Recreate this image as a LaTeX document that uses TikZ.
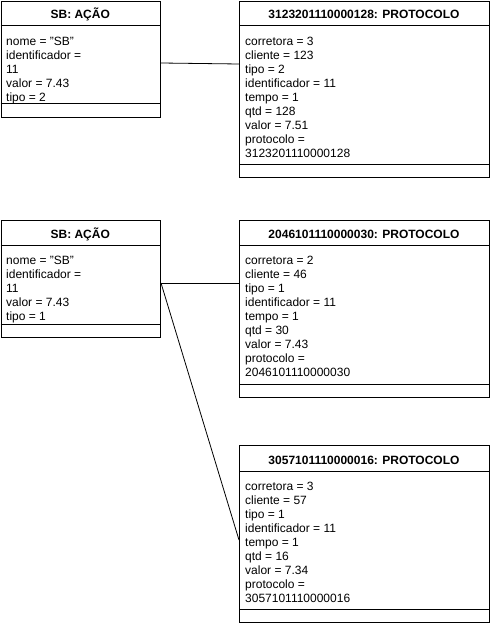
\documentclass[tikz,border=0pt]{standalone}
\usepackage{fontspec}
\setmainfont{Liberation Sans}
\newcommand{\dq}{\symbol{34}}
\begin{document}
\begin{tikzpicture}[x=1pt,y=-1pt,
  umlbox/.style={draw, line width=1pt, rectangle, inner sep=0pt, anchor=north west},
  titletext/.style={font=\fontsize{12}{14}\selectfont\bfseries, anchor=base, inner sep=0pt},
  bodytext/.style={font=\fontsize{12}{14}\selectfont, anchor=north west, align=left, inner sep=0pt},
  sepline/.style={line width=1pt},
  link/.style={line width=0.8pt}]
\useasboundingbox (0,0) rectangle (490,623);

% --- box a1
\node[umlbox, minimum width=159.5pt, minimum height=116pt] (a1) at (0.5,1) {};
\draw[sepline] (0.5,26) -- (160,26);
\draw[sepline] (0.5,104) -- (160,104);
\node[titletext] (a1t) at (80.25,19) {SB: AÇÃO};
\node[bodytext] (a1b) at (6,34.5) {\rule{0pt}{11pt}nome = \dq SB\dq\\identificador =\\11\\valor = 7.43\\tipo = 2};

% --- box p1
\node[umlbox, minimum width=250pt, minimum height=176pt] (p1) at (239,1) {};
\draw[sepline] (239,26) -- (489,26);
\draw[sepline] (239,164) -- (489,164);
\node[titletext] (p1t) at (364,18.5) {3123201110000128: PROTOCOLO};
\node[bodytext] (p1b) at (245,34.5) {\rule{0pt}{11pt}corretora = 3\\cliente = 123\\tipo = 2\\identificador = 11\\tempo = 1\\qtd = 128\\valor = 7.51\\protocolo =\\3123201110000128};

% --- box a2
\node[umlbox, minimum width=159.5pt, minimum height=117pt] (a2) at (0.5,220) {};
\draw[sepline] (0.5,245) -- (160,245);
\draw[sepline] (0.5,324) -- (160,324);
\node[titletext] (a2t) at (80.25,238.5) {SB: AÇÃO};
\node[bodytext] (a2b) at (6,253.5) {\rule{0pt}{11pt}nome = \dq SB\dq\\identificador =\\11\\valor = 7.43\\tipo = 1};

% --- box p2
\node[umlbox, minimum width=250pt, minimum height=177pt] (p2) at (239,220) {};
\draw[sepline] (239,245) -- (489,245);
\draw[sepline] (239,384) -- (489,384);
\node[titletext] (p2t) at (364,238.5) {2046101110000030: PROTOCOLO};
\node[bodytext] (p2b) at (245,253.5) {\rule{0pt}{11pt}corretora = 2\\cliente = 46\\tipo = 1\\identificador = 11\\tempo = 1\\qtd = 30\\valor = 7.43\\protocolo =\\2046101110000030};

% --- box p3
\node[umlbox, minimum width=250pt, minimum height=177pt] (p3) at (239,445) {};
\draw[sepline] (239,471) -- (489,471);
\draw[sepline] (239,609) -- (489,609);
\node[titletext] (p3t) at (364,464) {3057101110000016: PROTOCOLO};
\node[bodytext] (p3b) at (245,479.5) {\rule{0pt}{11pt}corretora = 3\\cliente = 57\\tipo = 1\\identificador = 11\\tempo = 1\\qtd = 16\\valor = 7.34\\protocolo =\\3057101110000016};

% --- connectors
\coordinate (a1r) at ([yshift=-62pt]a1.north east);
\coordinate (p1l) at ([yshift=-63pt]p1.north west);
\draw[link] (a1r) -- (p1l);
\coordinate (a2r) at ([yshift=-63pt]a2.north east);
\coordinate (p2l) at ([yshift=-63pt]p2.north west);
\coordinate (p3l) at ([yshift=-95pt]p3.north west);
\draw[link] (a2r) -- (p2l);
\draw[link] (a2r) -- (p3l);
\end{tikzpicture}
\end{document}
